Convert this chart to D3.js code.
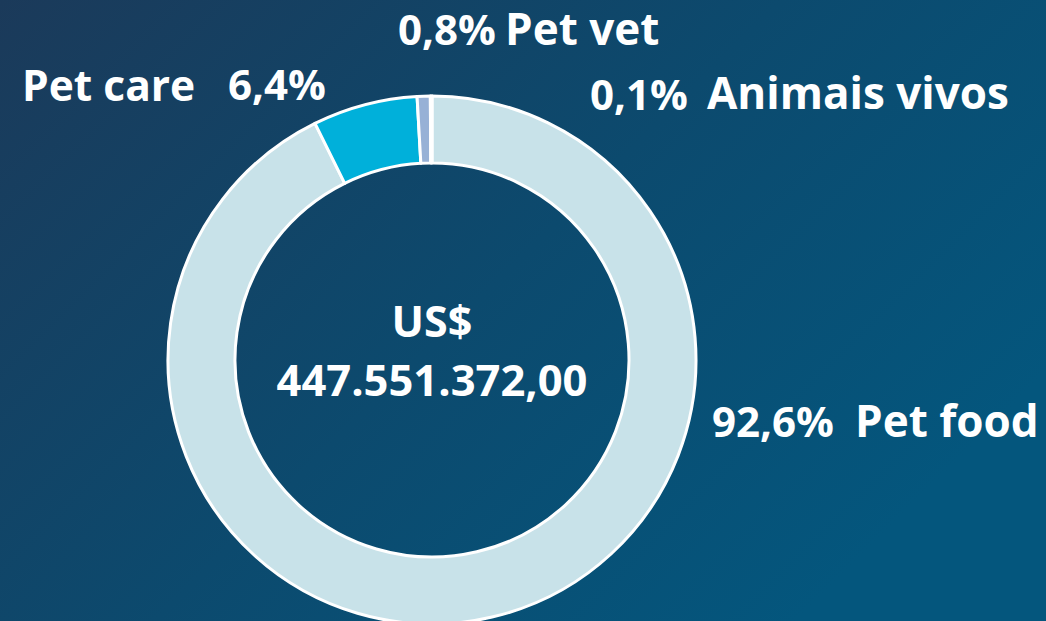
<!DOCTYPE html>
<html>
<head>
<meta charset="utf-8">
<script src="https://cdn.jsdelivr.net/npm/d3@7"></script>
<style>
  html, body { margin: 0; padding: 0; overflow: hidden; }
  svg { display: block; }
  text { font-family: "Open Sans", sans-serif; font-weight: 700; fill: #fff; }
</style>
</head>
<body>
<svg id="chart" width="1046" height="621"></svg>
<script>
const categories = ["Pet food", "Pet care", "Pet vet", "Animais vivos"];
const shares = [92.6, 6.4, 0.8, 0.1];
const totalUSD = 447551372.0;
const currencyLabel = "US$";

const COLORS = ["#c8e2e9", "#00b0da", "#97b1d6", "#1f4e79"];
const INNER_RADIUS = 197;
const OUTER_RADIUS = 264;
const FONT_SIZE = 42;

// where each label pair sits (percent first, then name), per category
const labelLayout = [
  { pct: [712, 437], name: [855, 437], nameSize: 44 },
  { pct: [228, 100], name: [22, 101], nameSize: 42.5 },
  { pct: [398, 45], name: [505, 45], nameSize: 44 },
  { pct: [590, 110], name: [707, 109], nameSize: 44 },
];

const ptBR = d3.formatLocale({
  decimal: ",",
  thousands: ".",
  grouping: [3],
  currency: ["R$", ""],
});
const fmtPct = ptBR.format(".1f");
const fmtMoney = ptBR.format(",.2f");

const svg = d3.select("#chart");
const width = +svg.attr("width");
const height = +svg.attr("height");

const defs = svg.append("defs");
const grad = defs
  .append("linearGradient")
  .attr("id", "bg")
  .attr("x1", "0%")
  .attr("y1", "0%")
  .attr("x2", "100%")
  .attr("y2", "60%");
grad.append("stop").attr("offset", "0%").attr("stop-color", "#1b3a5a");
grad.append("stop").attr("offset", "55%").attr("stop-color", "#0c4a6e");
grad.append("stop").attr("offset", "100%").attr("stop-color", "#04567d");

svg
  .append("rect")
  .attr("width", width)
  .attr("height", height)
  .attr("fill", "url(#bg)");

const cx = 432;
const cy = 360;

const pie = d3.pie().sort(null).value((d) => d);
const arc = d3.arc().innerRadius(INNER_RADIUS).outerRadius(OUTER_RADIUS);
const slices = pie(shares);

const g = svg.append("g").attr("transform", `translate(${cx},${cy})`);

g.selectAll("path")
  .data(slices)
  .enter()
  .append("path")
  .attr("d", arc)
  .attr("fill", (d, i) => COLORS[i])
  .attr("stroke", "#fff")
  .attr("stroke-width", 3)
  .attr("stroke-linejoin", "round");

// centre total
g.append("text")
  .attr("text-anchor", "middle")
  .attr("y", -23)
  .attr("font-size", 43)
  .text(currencyLabel);

g.append("text")
  .attr("text-anchor", "middle")
  .attr("y", 36)
  .attr("font-size", 43.5)
  .text(fmtMoney(totalUSD));

// slice labels
const labels = svg
  .selectAll("g.label")
  .data(categories)
  .enter()
  .append("g")
  .classed("label", true);

labels
  .append("text")
  .attr("x", (d, i) => labelLayout[i].pct[0])
  .attr("y", (d, i) => labelLayout[i].pct[1])
  .attr("font-size", FONT_SIZE)
  .text((d, i) => fmtPct(shares[i]) + "%");

labels
  .append("text")
  .attr("x", (d, i) => labelLayout[i].name[0])
  .attr("y", (d, i) => labelLayout[i].name[1])
  .attr("font-size", (d, i) => labelLayout[i].nameSize)
  .text((d) => d);
</script>
</body>
</html>
